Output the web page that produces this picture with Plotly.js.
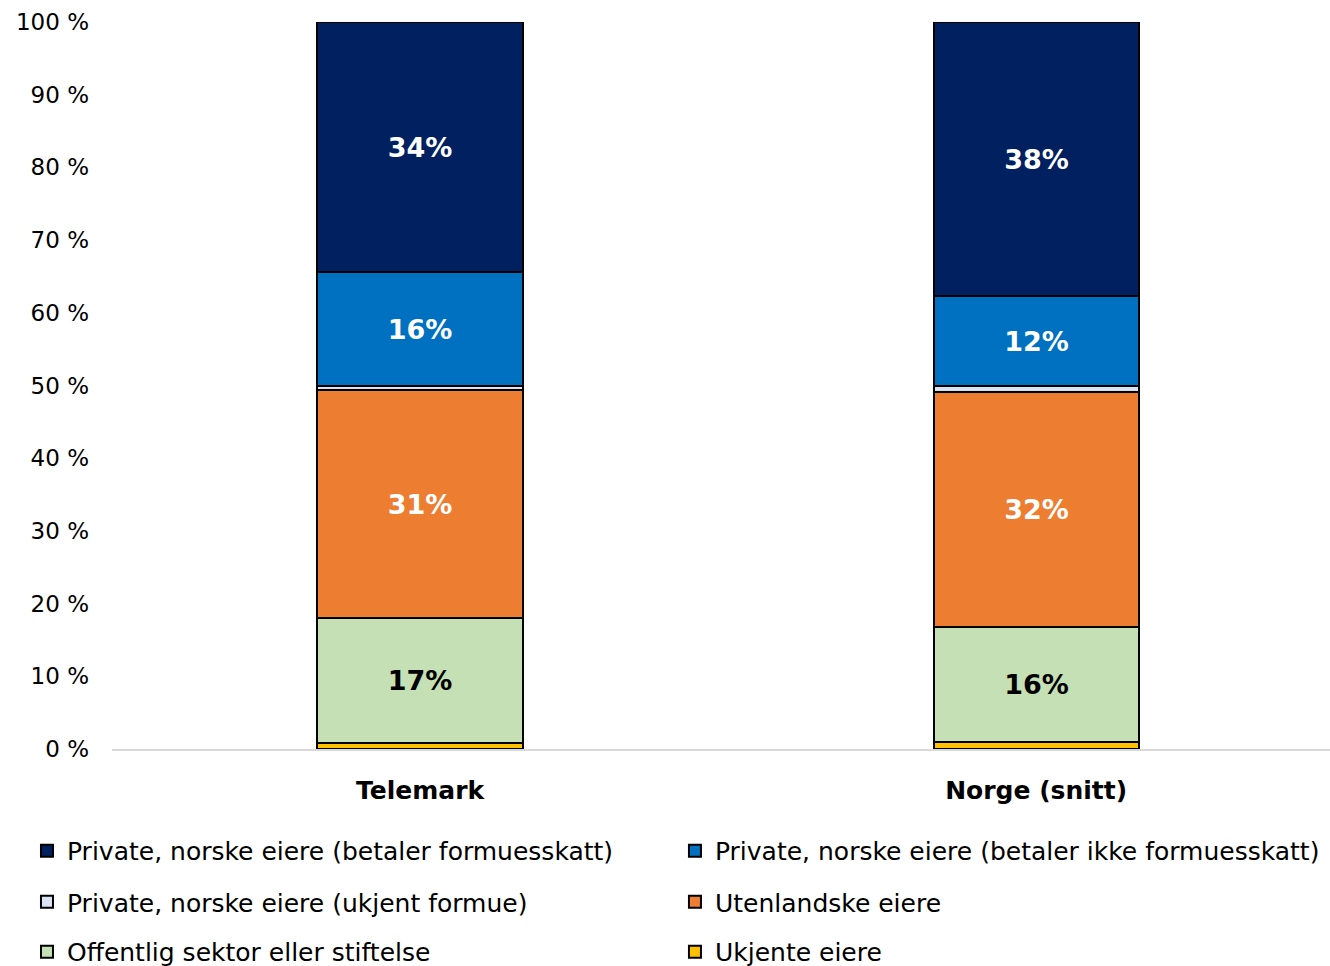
<!DOCTYPE html>
<html>
<head>
<meta charset="utf-8">
<script src="https://cdn.plot.ly/plotly-3.0.1.min.js"></script>
<style>html,body{margin:0;padding:0;background:#fff;}#chart{width:1330px;height:966px;}</style>
</head>
<body>
<div id="chart"></div>
<script>
const categories = ["Telemark", "Norge (snitt)"];
const seriesNames = [
  "Ukjente eiere",
  "Offentlig sektor eller stiftelse",
  "Utenlandske eiere",
  "Private, norske eiere (ukjent formue)",
  "Private, norske eiere (betaler ikke formuesskatt)",
  "Private, norske eiere (betaler formuesskatt)"
];
const ukjenteEiere = [0.8, 1.0];
const offentlig = [17.2, 15.8];
const utenlandske = [31.4, 32.3];
const ukjentFormue = [0.6, 0.9];
const betalerIkke = [15.6, 12.3];
const betaler = [34.4, 37.7];
const yTickVals = [0,10,20,30,40,50,60,70,80,90,100];
const yTickText = ["0 %","10 %","20 %","30 %","40 %","50 %","60 %","70 %","80 %","90 %","100 %"];

const seriesValues = [ukjenteEiere, offentlig, utenlandske, ukjentFormue, betalerIkke, betaler];
const colors = ["#FFC000", "#C5E0B4", "#ED7D31", "#DAE3F3", "#0070C0", "#002060"];
const showLabel = [false, true, true, false, true, true];
const labelColor = ["#000", "#000", "#fff", "#000", "#fff", "#fff"];
// legend slot per series: [column, row]
const legendSlot = [[1, 2], [0, 2], [1, 1], [0, 1], [1, 0], [0, 0]];
const legendColX = [-0.0698, 0.4622];
const legendRowY = [-0.1403, -0.2105, -0.2792];

const FONT = "DejaVu Sans, sans-serif";
const traces = seriesNames.map((name, i) => ({
  type: "bar",
  name: name,
  x: categories,
  y: seriesValues[i],
  width: 0.333,
  marker: {color: colors[i], line: {color: "#000", width: 2}},
  text: showLabel[i] ? seriesValues[i].map(v => Math.round(v) + "%") : seriesValues[i].map(() => ""),
  textposition: "inside",
  insidetextanchor: "middle",
  textangle: 0,
  constraintext: "none",
  textfont: {family: FONT, size: 27, color: labelColor[i], weight: "bold"},
  hoverinfo: "name+y",
  legend: i === 0 ? "legend" : "legend" + (i + 1)
}));

const layout = {
  width: 1330,
  height: 966,
  margin: {l: 112, r: 0, t: 22, b: 217, autoexpand: false},
  paper_bgcolor: "#fff",
  plot_bgcolor: "#fff",
  barmode: "stack",
  bargap: 0,
  showlegend: true,
  font: {family: FONT, color: "#000"},
  xaxis: {
    range: [-0.5, 1.477],
    showline: true,
    linecolor: "#d9d9d9",
    linewidth: 2,
    ticks: "",
    showgrid: false,
    tickfont: {family: FONT, size: 25, color: "#000", weight: "bold"},
    ticklabelstandoff: 18
  },
  yaxis: {
    range: [0, 100],
    tickvals: yTickVals,
    ticktext: yTickText,
    showgrid: false,
    zeroline: false,
    showline: false,
    ticks: "",
    tickfont: {family: FONT, size: 23, color: "#000"},
    ticklabelstandoff: 22
  },
  uniformtext: {mode: false}
};
seriesNames.forEach((n, i) => {
  const key = i === 0 ? "legend" : "legend" + (i + 1);
  layout[key] = {
    orientation: "v",
    xanchor: "left",
    yanchor: "middle",
    x: legendColX[legendSlot[i][0]],
    y: legendRowY[legendSlot[i][1]],
    font: {family: FONT, size: 25, color: "#000"},
    bgcolor: "rgba(0,0,0,0)"
  };
});

Plotly.newPlot("chart", traces, layout, {displayModeBar: false, responsive: false});
</script>
</body>
</html>
